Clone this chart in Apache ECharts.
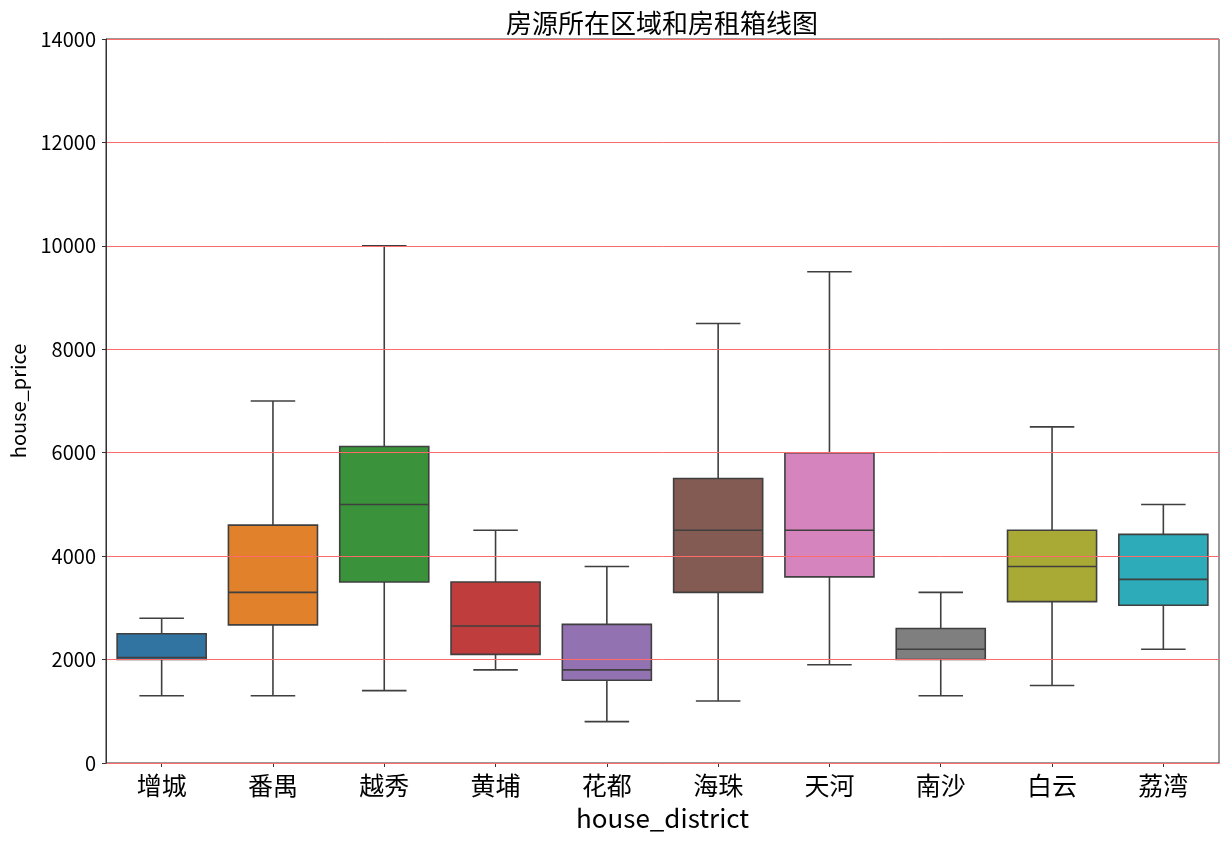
<!DOCTYPE html>
<html>
<head>
<meta charset="utf-8">
<script src="https://cdn.jsdelivr.net/npm/echarts@6/dist/echarts.min.js"></script>
<style>html,body{margin:0;padding:0;background:#fff}#main{width:1230px;height:844px}</style>
</head>
<body>
<div id="main"></div>
<script>
const categories = ['增城','番禺','越秀','黄埔','花都','海珠','天河','南沙','白云','荔湾'];
const mins    = [1300, 1300, 1400, 1800,  800, 1200, 1900, 1300, 1500, 2200];
const q1s     = [2000, 2670, 3500, 2100, 1600, 3300, 3600, 2000, 3120, 3050];
const medians = [2040, 3300, 5000, 2650, 1800, 4500, 4500, 2200, 3800, 3550];
const q3s     = [2500, 4600, 6120, 3500, 2680, 5500, 6000, 2600, 4500, 4420];
const maxs    = [2800, 7000, 10000, 4500, 3800, 8500, 9500, 3300, 6500, 5000];
const yTicks  = [0, 2000, 4000, 6000, 8000, 10000, 12000, 14000];

const palette = ['#3274a1','#e1812c','#3a923a','#c03d3e','#9372b2','#845b53','#d684bd','#7f7f7f','#a9aa35','#2eabb8'];
const edge = '#3f3f3f';
const font = '"Noto Sans CJK SC","Noto Sans",sans-serif';

const rows = categories.map((c, i) => [i, mins[i], q1s[i], medians[i], q3s[i], maxs[i]]);

function renderItem(params, api) {
  const i = api.value(0);
  const band = api.size([1, 0])[0];
  const bw = band * 0.8, cw = band * 0.4;
  const pMin = api.coord([i, api.value(1)]);
  const pQ1 = api.coord([i, api.value(2)]);
  const pMed = api.coord([i, api.value(3)]);
  const pQ3 = api.coord([i, api.value(4)]);
  const pMax = api.coord([i, api.value(5)]);
  const x = pMin[0];
  const ls = {stroke: edge, lineWidth: 1.6};
  return {
    type: 'group',
    children: [
      {type: 'line', shape: {x1: x, y1: pMin[1], x2: x, y2: pQ1[1]}, style: ls},
      {type: 'line', shape: {x1: x, y1: pQ3[1], x2: x, y2: pMax[1]}, style: ls},
      {type: 'line', shape: {x1: x - cw/2, y1: pMin[1], x2: x + cw/2, y2: pMin[1]}, style: ls},
      {type: 'line', shape: {x1: x - cw/2, y1: pMax[1], x2: x + cw/2, y2: pMax[1]}, style: ls},
      {type: 'rect', shape: {x: x - bw/2, y: pQ3[1], width: bw, height: pQ1[1] - pQ3[1]},
        style: {fill: palette[i % palette.length], stroke: edge, lineWidth: 1.6}},
      {type: 'line', shape: {x1: x - bw/2, y1: pMed[1], x2: x + bw/2, y2: pMed[1]}, style: ls}
    ]
  };
}

const chart = echarts.init(document.getElementById('main'), null, {renderer: 'canvas'});
chart.setOption({
  animation: false,
  backgroundColor: '#fff',
  title: {
    text: '房源所在区域和房租箱线图',
    left: 657, textAlign: 'center', top: 5,
    textStyle: {fontFamily: font, fontSize: 26, fontWeight: 'normal', color: '#000'}
  },
  grid: {left: 103, right: 11, top: 39, bottom: 81, show: true, borderColor: '#333', borderWidth: 1, backgroundColor: 'transparent'},
  xAxis: {
    type: 'category', data: categories, boundaryGap: true,
    name: 'house_district', nameLocation: 'middle', nameGap: 42,
    nameTextStyle: {fontFamily: font, fontSize: 26, color: '#000'},
    axisLine: {show: true, lineStyle: {color: '#333', width: 1}},
    axisTick: {show: true, alignWithLabel: true, length: 4, lineStyle: {color: '#333'}},
    axisLabel: {fontFamily: font, fontSize: 25, color: '#000', margin: 10},
    splitLine: {show: false}
  },
  yAxis: {
    type: 'value', min: 0, max: 14000, interval: 2000, z: 10,
    name: 'house_price', nameLocation: 'middle', nameGap: 78, nameRotate: 90,
    nameTextStyle: {fontFamily: font, fontSize: 20, color: '#000'},
    axisLine: {show: true, lineStyle: {color: '#333', width: 1}},
    axisTick: {show: true, length: 4, lineStyle: {color: '#333'}},
    axisLabel: {fontFamily: font, fontSize: 20, color: '#000', margin: 10,
      formatter: v => yTicks.includes(v) ? String(v) : ''},
    splitLine: {show: true, lineStyle: {color: ['#ff6a6a'], width: 1}}
  },
  series: [{
    type: 'custom',
    renderItem: renderItem,
    data: rows,
    encode: {x: 0, y: [1, 2, 3, 4, 5]},
    z: 2
  }]
});
</script>
</body>
</html>
